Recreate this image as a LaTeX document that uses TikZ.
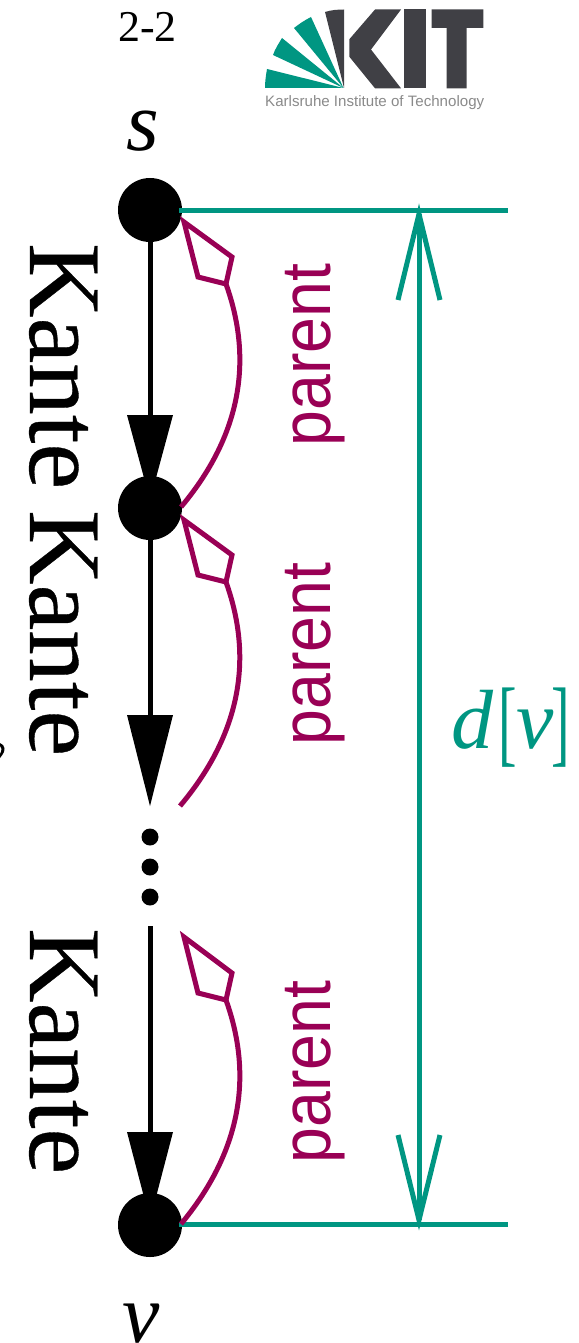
\documentclass[tikz,border=0pt]{standalone}
\usepackage{fontspec}
\setmainfont{Liberation Serif}
\setsansfont{Liberation Sans}
\newfontfamily\heavyserif[FakeBold=0.35]{Liberation Serif}
\definecolor{kitgreen}{HTML}{009682}
\definecolor{kitpurple}{HTML}{990055}
\definecolor{kitdark}{HTML}{404045}
\definecolor{kitgray}{HTML}{8A8A8A}
\newcommand{\fs}[1]{\fontsize{#1}{#1}\selectfont}
\newcommand{\brk}[1]{\raisebox{-6pt}{\scalebox{.58}[1]{\fs{96}#1}}}
\tikzset{
  vertexdot/.style={circle,fill=black,inner sep=0pt,minimum size=64pt},
  smalldot/.style={circle,fill=black,inner sep=0pt,minimum size=17pt},
  edgeline/.style={line width=5pt,black},
  headblack/.style={fill=black,draw=none},
  greenline/.style={line width=5pt,kitgreen},
  purpleline/.style={line width=5pt,kitpurple,line join=miter},
  kantelabel/.style={rotate=-90,anchor=base west,inner sep=0pt,font=\heavyserif\fs{103}},
  parentlabel/.style={rotate=90,anchor=base,inner sep=0pt,text=kitpurple,font=\sffamily\fs{70},xscale=.92},
  mathlabel/.style={inner sep=0pt,font=\fs{84}\itshape},
  logogreen/.style={fill=kitgreen,draw=none},
  logodark/.style={fill=kitdark,draw=none}
}
\begin{document}
\begin{tikzpicture}[x=1pt,y=-1pt]
\useasboundingbox (0,0) rectangle (578,1343);
\clip (0,0) rectangle (578,1343);
% page number
\node[inner sep=0pt,font=\fs{44}] (page) at (147.5,27) {2-2};
% logo
\fill[logogreen] (343.5,88) -- (265,88) .. controls (265,81) and (266,75) .. (267,69) -- cycle;
\fill[logogreen] (343.5,88) -- (273,55) .. controls (275,49) and (279,43) .. (282,38) -- cycle;
\fill[logogreen] (343.5,88) -- (294,28) .. controls (299,24) and (305,20) .. (311,17) -- cycle;
\fill[logodark] (344,88) -- (325,12) .. controls (331,10) and (338,9.5) .. (344,9.5) -- cycle;
\fill[logodark] (375,9.5) -- (401,9.5) -- (371,49.5) -- (401,88.3) -- (375,88.3) -- (349.3,56.7) -- (349.3,39.3) -- cycle;
\fill[logodark] (404,9.5) rectangle (426,88.3);
\fill[logodark] (431.7,9.5) -- (483.3,9.5) -- (483.3,28) -- (466.7,28) -- (466.7,88.3) -- (446.7,88.3) -- (446.7,28) -- (431.7,28) -- cycle;
\node[inner sep=0pt,anchor=base west,text=kitgray] (logotext) at (265,107) {\resizebox{219pt}{!}{\sffamily\fs{15}Karlsruhe Institute of Technology}};
% labels
\node[mathlabel,anchor=base] (slabel) at (143,151) {s};
\node[mathlabel,anchor=base] (vlabel) at (141,1342) {v};
\node[kantelabel] (k1) at (30,243) {Kante};
\node[kantelabel] (k2) at (30,510) {Kante};
\node[kantelabel] (k3) at (30,928) {Kante};
\node[parentlabel] (p1) at (330,355) {parent};
\node[parentlabel] (p2) at (330,654) {parent};
\node[parentlabel] (p3) at (330,1072) {parent};
\node[inner sep=0pt,anchor=base west,text=kitgreen,font=\fs{84}] (dv) at (451,748) {\textit{d}\kern5pt\brk{[}\textit{v}\kern-3pt\brk{]}};
% clipped fragment at the left edge
\fill[black] (0,743) .. controls (5,745) and (7,750) .. (0,758) -- (0,754) .. controls (2,750) and (2,747) .. (0,746) -- cycle;
% vertices
\node[vertexdot] (a) at (150,210) {};
\node[vertexdot] (b) at (150,508) {};
\node[vertexdot] (c) at (150,1225) {};
\node[smalldot] (d1) at (150,837) {};
\node[smalldot] (d2) at (150,867) {};
\node[smalldot] (d3) at (150,897) {};
\coordinate (t1) at (150,500);
\coordinate (b1) at (150,415);
\coordinate (t2) at (150,806);
\coordinate (b2) at (150,715);
\coordinate (s3) at (150,926);
\coordinate (t3) at (150,1220);
\coordinate (b3) at (150,1132);
% black edges
\draw[edgeline] (a) -- (b1);
\fill[headblack] (t1) -- (127,415) -- (173,415) -- cycle;
\draw[edgeline] (b) -- (b2);
\fill[headblack] (t2) -- (127,715) -- (173,715) -- cycle;
\draw[edgeline] (s3) -- (b3);
\fill[headblack] (t3) -- (127,1132) -- (173,1132) -- cycle;
% green dimension
\coordinate (g1) at (508,210);
\coordinate (g2) at (508,1224.5);
\coordinate (tipa) at (419,214);
\coordinate (tipb) at (419,1220);
\draw[greenline] (179,210) -- (g1);
\draw[greenline] (179,1224.5) -- (g2);
\draw[greenline] (tipa) -- (tipb);
\draw[greenline,line join=miter] (398,300) -- (tipa) -- (440,300);
\draw[greenline,line join=miter] (398,1135) -- (tipb) -- (440,1135);
% parent arcs
\draw[purpleline] (184,222) -- (232,257) -- (226,284) -- (198,277) -- cycle;
\draw[purpleline] (226,284) .. controls (246,340) and (254,420) .. (181,507);
\draw[purpleline] (184,520) -- (232,555) -- (226,582) -- (198,575) -- cycle;
\draw[purpleline] (226,582) .. controls (246,638) and (254,718) .. (180,806);
\draw[purpleline] (184,937) -- (232,973) -- (226,1000) -- (198,993) -- cycle;
\draw[purpleline] (226,1000) .. controls (246,1056) and (254,1136) .. (181,1224);
\end{tikzpicture}
\end{document}
